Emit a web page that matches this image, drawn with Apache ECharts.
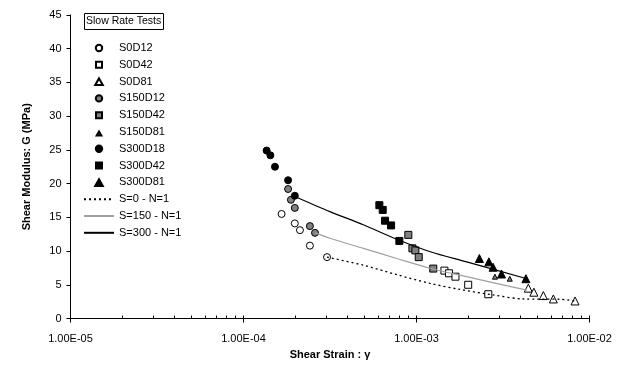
<!DOCTYPE html>
<html><head><meta charset="utf-8">
<script src="https://cdn.jsdelivr.net/npm/echarts@6/dist/echarts.min.js"></script>
<style>html,body{margin:0;padding:0;background:#fff}#c{width:630px;height:369px}</style>
</head><body><div id="c"></div>
<script>
// ---- axis ticks ----
const xMajorTicks = [1e-5, 1e-4, 1e-3, 1e-2];
const xTickLabels = ['1.00E-05', '1.00E-04', '1.00E-03', '1.00E-02'];
const xMinorTicks = [2e-5,3e-5,4e-5,5e-5,6e-5,7e-5,8e-5,9e-5,
                     2e-4,3e-4,4e-4,5e-4,6e-4,7e-4,8e-4,9e-4,
                     2e-3,3e-3,4e-3,5e-3,6e-3,7e-3,8e-3,9e-3];
const yTickLabels = ['0','5','10','15','20','25','30','35','40','45'];

// ---- measured data [strain, G (MPa)] ----
const S0D12   = [[1.66e-4,15.5],[1.98e-4,14.1],[2.12e-4,13.1],[2.42e-4,10.8],[3.04e-4,9.1]];
const S0D42   = [[1.45e-3,7.1],[1.54e-3,6.7],[1.68e-3,6.2],[1.99e-3,5.0],[2.60e-3,3.6]];
const S0D81   = [[4.43e-3,4.5],[4.77e-3,3.9],[5.41e-3,3.4],[6.18e-3,2.9],[8.25e-3,2.6]];
const S150D12 = [[1.81e-4,19.2],[1.88e-4,17.6],[1.98e-4,16.4],[2.42e-4,13.7],[2.59e-4,12.7]];
const S150D42 = [[8.97e-4,12.4],[9.47e-4,10.4],[9.85e-4,10.1],[1.03e-3,9.1],[1.25e-3,7.4]];
const S150D81 = [[2.84e-3,6.2],[3.46e-3,5.9]];
const S300D18 = [[1.36e-4,24.9],[1.43e-4,24.2],[1.52e-4,22.5],[1.81e-4,20.5],[1.98e-4,18.2]];
const S300D42 = [[6.10e-4,16.8],[6.38e-4,16.1],[6.58e-4,14.5],[7.13e-4,13.8],[7.96e-4,11.5]];
const S300D81 = [[2.31e-3,8.9],[2.62e-3,8.4],[2.77e-3,7.6],[3.10e-3,6.6],[4.29e-3,5.9]];

// ---- fitted curves ----
const fitS0   = [[3.04e-4,9.1],[4.93e-4,7.9],[7.69e-4,6.5],[1.20e-3,5.2],[1.79e-3,4.3],[2.77e-3,3.5],[4.12e-3,2.9],[6.77e-3,2.85],[8.25e-3,2.6]];
const fitS150 = [[2.59e-4,12.7],[3.16e-4,11.9],[4.93e-4,10.4],[7.69e-4,8.9],[1.20e-3,7.45],[1.95e-3,6.2],[4.34e-3,4.2]];
const fitS300 = [[1.98e-4,18.1],[3.16e-4,15.85],[4.93e-4,13.9],[7.69e-4,11.75],[1.20e-3,9.9],[1.95e-3,8.4],[4.34e-3,5.9]];

const FONT = 'Liberation Sans, Arial, sans-serif';
const GRAY = '#808080';

// legend icon shapes, drawn inside a 30x8 box
const ICON_CIRCLE = 'path://M0,0M30,8M11.8,4A3.2,3.2,0,1,1,18.2,4A3.2,3.2,0,1,1,11.8,4Z';
const ICON_SQUARE = 'path://M0,0M30,8M12,1L18,1L18,7L12,7Z';
const ICON_TRI = 'path://M0,0M30,8M15,0.8L18.8,7.5L11.2,7.5Z';
const ICON_TRI_SMALL = 'path://M0,0M30,8M15,3.5L17.3,7.5L12.7,7.5Z';
const NO_MARK = { color: 'rgba(0,0,0,0)', borderColor: 'rgba(0,0,0,0)', borderWidth: 0 };

function sc(name, data, symbol, size, fill) {
  return {
    name, type: 'scatter', data, symbol, symbolSize: size, xAxisIndex: 0,
    itemStyle: { color: fill, borderColor: '#000', borderWidth: 1, opacity: 1 },
    emphasis: { disabled: true }, z: 3
  };
}
function ln(name, data, color, type, width) {
  return {
    name, type: 'line', data, smooth: 0.3, symbol: 'none', xAxisIndex: 0,
    lineStyle: { color, type, width }, itemStyle: { color },
    emphasis: { disabled: true }, z: 4
  };
}

const chart = echarts.init(document.getElementById('c'), null, { renderer: 'canvas' });
chart.setOption({
  animation: false,
  backgroundColor: '#fff',
  textStyle: { fontFamily: FONT },
  title: {
    text: 'Slow Rate Tests', left: 84, top: 13,
    borderColor: '#000', borderWidth: 1, padding: [3, 2],
    textStyle: { fontSize: 10.5, fontWeight: 'normal', color: '#000', fontFamily: FONT }
  },
  grid: { left: 70.5, right: 40.5, top: 15, bottom: 50.5, containLabel: false },
  legend: {
    orient: 'vertical', left: 83, top: 41, padding: 0, itemWidth: 30, itemHeight: 8, itemGap: 2.8,
    selectedMode: false,
    textStyle: { fontSize: 11, lineHeight: 14, color: '#000', fontFamily: FONT },
    data: [
      { name: 'S0D12', icon: ICON_CIRCLE },
      { name: 'S0D42', icon: ICON_SQUARE },
      { name: 'S0D81', icon: ICON_TRI },
      { name: 'S150D12', icon: ICON_CIRCLE },
      { name: 'S150D42', icon: ICON_SQUARE },
      { name: 'S150D81', icon: ICON_TRI_SMALL },
      { name: 'S300D18', icon: ICON_CIRCLE },
      { name: 'S300D42', icon: ICON_SQUARE },
      { name: 'S300D81', icon: ICON_TRI },
      { name: 'S=0 - N=1', itemStyle: NO_MARK },
      { name: 'S=150 - N=1', itemStyle: NO_MARK },
      { name: 'S=300 - N=1', itemStyle: NO_MARK }
    ]
  },
  xAxis: [{
    type: 'log', logBase: 10, min: 1e-5, max: 1e-2,
    name: 'Shear Strain : γ', nameLocation: 'middle', nameGap: 30,
    nameTextStyle: { fontSize: 11, fontWeight: 'bold', color: '#000', fontFamily: FONT },
    axisLine: { show: true, onZero: false, lineStyle: { color: '#000', width: 1 } },
    axisTick: { show: true, inside: false, length: 4, lineStyle: { color: '#000' }, customValues: xMajorTicks },
    axisLabel: {
      show: true, margin: 15, fontSize: 11, color: '#000', fontFamily: FONT,
      customValues: xMajorTicks,
      formatter: (v) => { const i = xMajorTicks.findIndex(t => Math.abs(Math.log10(t) - Math.log10(v)) < 1e-6); return i >= 0 ? xTickLabels[i] : ''; }
    },
    splitLine: { show: false }, minorTick: { show: false }
  }, {
    type: 'log', logBase: 10, min: 1e-5, max: 1e-2, position: 'bottom',
    axisLine: { show: false },
    axisTick: { show: true, inside: true, length: 3, lineStyle: { color: '#000' }, customValues: xMajorTicks.concat(xMinorTicks) },
    axisLabel: { show: false }, splitLine: { show: false }
  }],
  yAxis: {
    type: 'value', min: 0, max: 45, interval: 5,
    name: 'Shear Modulus: G (MPa)', nameLocation: 'middle', nameGap: 38, nameRotate: 90,
    nameTextStyle: { fontSize: 11, fontWeight: 'bold', color: '#000', fontFamily: FONT },
    axisLine: { show: true, lineStyle: { color: '#000', width: 1 } },
    axisTick: { show: true, inside: false, length: 4, lineStyle: { color: '#000' } },
    axisLabel: { margin: 9, fontSize: 11, color: '#000', fontFamily: FONT,
      formatter: (v) => yTickLabels[Math.round(v / 5)] },
    splitLine: { show: false }
  },
  series: [
    sc('S0D12', S0D12, 'circle', 7, '#fff'),
    sc('S0D42', S0D42, 'rect', 7, '#fff'),
    sc('S0D81', S0D81, 'triangle', 8, '#fff'),
    sc('S150D12', S150D12, 'circle', 7, GRAY),
    sc('S150D42', S150D42, 'rect', 7, GRAY),
    sc('S150D81', S150D81, 'triangle', 5, GRAY),
    sc('S300D18', S300D18, 'circle', 7, '#000'),
    sc('S300D42', S300D42, 'rect', 7, '#000'),
    sc('S300D81', S300D81, 'triangle', 8, '#000'),
    ln('S=0 - N=1', fitS0, '#000', [2, 3], 1.3),
    ln('S=150 - N=1', fitS150, '#a0a0a0', 'solid', 1.2),
    ln('S=300 - N=1', fitS300, '#000', 'solid', 1.2)
  ]
});
</script></body></html>
